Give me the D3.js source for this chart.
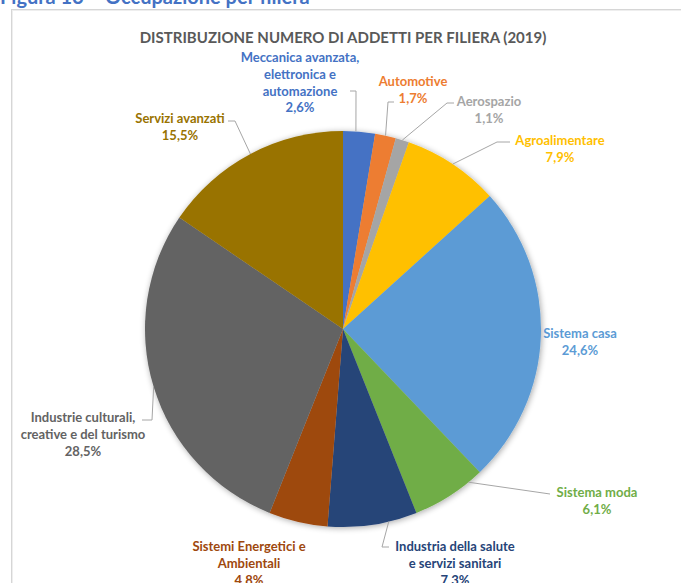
<!DOCTYPE html>
<html>
<head>
<meta charset="utf-8">
<script src="https://cdn.jsdelivr.net/npm/d3@7"></script>
<style>
  html, body { margin: 0; padding: 0; background: #fff; }
  svg { display: block; }
</style>
</head>
<body>
<svg id="chart" width="681" height="583"></svg>
<script>
// Filiere (clockwise from 12 o'clock) and share of employees, 2019
const categories = [
  "Meccanica avanzata, elettronica e automazione",
  "Automotive",
  "Aerospazio",
  "Agroalimentare",
  "Sistema casa",
  "Sistema moda",
  "Industria della salute e servizi sanitari",
  "Sistemi Energetici e Ambientali",
  "Industrie culturali, creative e del turismo",
  "Servizi avanzati"
];
const values = [2.6, 1.7, 1.1, 7.9, 24.6, 6.1, 7.3, 4.8, 28.5, 15.5];
const labelLines = [
  ["Meccanica avanzata,", "elettronica e", "automazione"],
  ["Automotive"],
  ["Aerospazio"],
  ["Agroalimentare"],
  ["Sistema casa"],
  ["Sistema moda"],
  ["Industria della salute", "e servizi sanitari"],
  ["Sistemi Energetici e", "Ambientali"],
  ["Industrie culturali,", "creative e del turismo"],
  ["Servizi avanzati"]
];
const colors = ["#4472C4", "#ED7D31", "#A5A5A5", "#FFC000", "#5B9BD5",
                "#70AD47", "#264478", "#9E480E", "#636363", "#997300"];

const chartTitle = "DISTRIBUZIONE NUMERO DI ADDETTI PER FILIERA (2019)";
const figureTitle = "Figura 13 \u2013 Occupazione per filiera";

// Label placement: text centre x, first baseline y, leader elbow/end and
// where along the slice arc the leader starts (0..1)
const labelLayout = [
  { x: 300, y: 62,  leader: [[356, 91], [350, 91]],   t: 0.4 },
  { x: 413, y: 86,  leader: [[388, 102], [394, 102]], t: 0.5 },
  { x: 489, y: 106, leader: [[447, 103], [454, 103]], t: 0.5 },
  { x: 560, y: 145, leader: [[497, 142], [510, 142]], t: 0.5 },
  { x: 580, y: 338, leader: null,                     t: 0.5 },
  { x: 597, y: 497, leader: [[550, 494]],             t: 0.2 },
  { x: 455, y: 551, leader: [[382, 547], [389, 547]], t: 0.32 },
  { x: 249, y: 551, leader: null,                     t: 0.5 },
  { x: 83,  y: 422, leader: [[152, 420], [142, 420]], t: 0.5 },
  { x: 180, y: 123, leader: [[235, 121], [228, 121]], t: 0.5 }
];

const fmt = v => d3.format(".1f")(v).replace(".", ",") + "%";

const svg = d3.select("#chart");
const fontFamily = "Lato, 'Open Sans', sans-serif";

// drop shadow for the pie
const defs = svg.append("defs");
const sh = defs.append("filter").attr("id", "pieShadow")
  .attr("x", "-20%").attr("y", "-20%").attr("width", "140%").attr("height", "140%");
sh.append("feGaussianBlur").attr("in", "SourceAlpha").attr("stdDeviation", 3);
sh.append("feOffset").attr("dx", 1).attr("dy", 1).attr("result", "b");
sh.append("feComponentTransfer").append("feFuncA").attr("type", "linear").attr("slope", 0.35);
const m = sh.append("feMerge");
m.append("feMergeNode");
m.append("feMergeNode").attr("in", "SourceGraphic");

// page heading (partly above the viewport)
svg.append("text")
  .attr("x", 0).attr("y", 4)
  .attr("font-family", fontFamily).attr("font-weight", 700)
  .attr("font-size", 20).attr("fill", "#4472C4")
  .text(figureTitle);

// chart frame
svg.append("rect")
  .attr("x", 11.5).attr("y", 9.5).attr("width", 700).attr("height", 600)
  .attr("fill", "#fff").attr("stroke", "#d6d6d6").attr("stroke-width", 1);
svg.append("rect")
  .attr("x", 12.5).attr("y", 10.5).attr("width", 700).attr("height", 600)
  .attr("fill", "none").attr("stroke", "#eeeeee").attr("stroke-width", 1);

// chart title
svg.append("text")
  .attr("x", 343).attr("y", 43)
  .attr("text-anchor", "middle")
  .attr("font-family", fontFamily).attr("font-weight", 700)
  .attr("font-size", 15).attr("fill", "#595959")
  .text(chartTitle);

const cx = 343, cy = 329, r = 198;
const g = svg.append("g").attr("transform", `translate(${cx},${cy})`);

const pie = d3.pie().sort(null).value(d => d)(values);
const arc = d3.arc().innerRadius(0).outerRadius(r);

g.append("g").attr("filter", "url(#pieShadow)")
  .selectAll("path").data(pie).join("path")
  .attr("d", arc)
  .attr("fill", (d, i) => colors[i]);

// leader lines
pie.forEach((d, i) => {
  const L = labelLayout[i];
  if (!L.leader) return;
  const a = d.startAngle + (d.endAngle - d.startAngle) * L.t;
  const p0 = [cx + r * Math.sin(a), cy - r * Math.cos(a)];
  svg.append("path")
    .attr("d", d3.line()([p0, ...L.leader]))
    .attr("fill", "none").attr("stroke", "#A6A6A6").attr("stroke-width", 1);
});

// data labels
pie.forEach((d, i) => {
  const L = labelLayout[i];
  const t = svg.append("text")
    .attr("text-anchor", "middle")
    .attr("font-family", fontFamily).attr("font-weight", 700)
    .attr("font-size", 13).attr("fill", colors[i]);
  const lines = [...labelLines[i], fmt(values[i])];
  lines.forEach((s, k) => {
    t.append("tspan").attr("x", L.x).attr("y", L.y + k * 16.8).text(s);
  });
});
</script>
</body>
</html>
